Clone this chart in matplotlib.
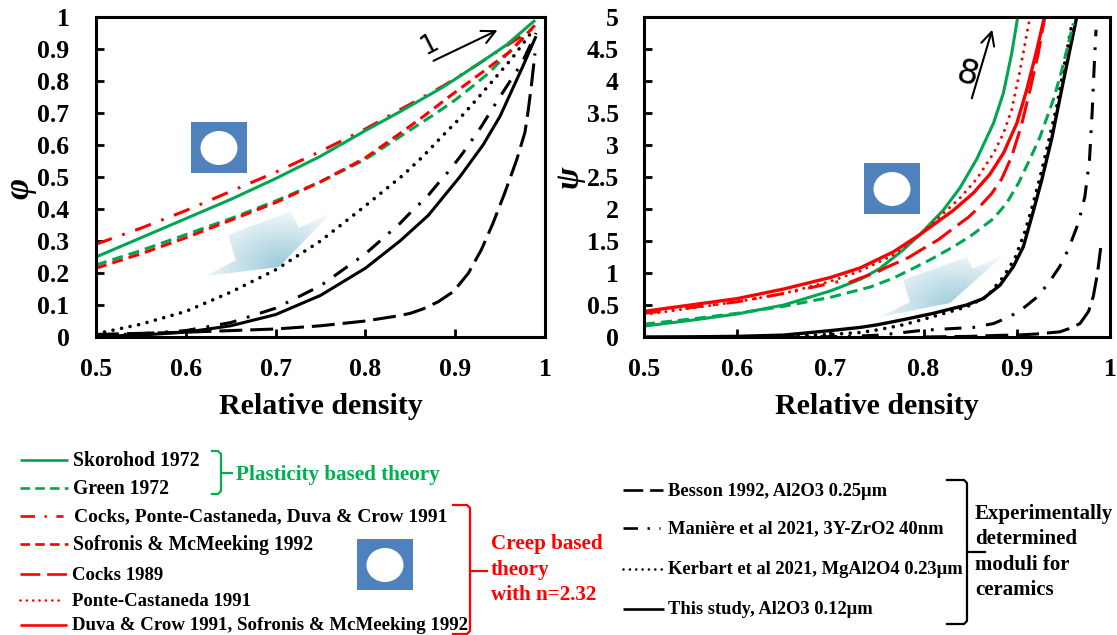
import numpy as np
import matplotlib
matplotlib.use("Agg")
import matplotlib.pyplot as plt
from matplotlib.patches import Ellipse, Polygon, Rectangle

plt.rcParams["font.family"] = ["Liberation Serif", "DejaVu Serif"]
plt.rcParams["font.weight"] = "bold"

W, H = 1117, 635
GREEN = "#00A651"
GREEN_TXT = "#00B050"
RED = "#FF0000"
BLUE = "#4F81BD"

# sol panel: phi
x_sko_l = [0.5, 0.55, 0.6, 0.65, 0.7, 0.75, 0.8, 0.8385, 0.887, 0.924, 0.957, 0.989]
y_sko_l = [0.25, 0.31, 0.37, 0.43, 0.495, 0.565, 0.645, 0.704, 0.782, 0.85, 0.9125, 0.99]
x_gre_l = [0.5, 0.55, 0.6, 0.65, 0.7, 0.75, 0.8, 0.8385, 0.857, 0.8775, 0.8997, 0.9165, 0.937, 0.957, 0.983]
y_gre_l = [0.225, 0.27, 0.32, 0.37, 0.425, 0.485, 0.555, 0.626, 0.66, 0.697, 0.74, 0.777, 0.824, 0.881, 0.954]
x_coc_l = [0.5, 0.55, 0.6, 0.65, 0.7, 0.75, 0.8, 0.8385, 0.887, 0.924, 0.957, 0.99]
y_coc_l = [0.29, 0.34, 0.395, 0.455, 0.515, 0.58, 0.65, 0.71, 0.785, 0.85, 0.91, 0.97]
x_sof_l = [0.5, 0.55, 0.6, 0.65, 0.7, 0.75, 0.8, 0.8385, 0.8645, 0.898, 0.931, 0.961, 0.989]
y_sof_l = [0.215, 0.26, 0.31, 0.365, 0.42, 0.485, 0.56, 0.636, 0.689, 0.761, 0.829, 0.892, 0.975]
x_ker_l = [0.5, 0.55, 0.6, 0.65, 0.7, 0.75, 0.8, 0.842, 0.864, 0.885, 0.905, 0.925, 0.944, 0.963, 0.987]
y_ker_l = [0.01, 0.04, 0.08, 0.14, 0.21, 0.3, 0.41, 0.506, 0.564, 0.626, 0.683, 0.746, 0.808, 0.87, 0.96]
x_man_l = [0.5, 0.55, 0.6, 0.65, 0.7, 0.75, 0.8, 0.8385, 0.853, 0.868, 0.881, 0.894, 0.907, 0.918, 0.929, 0.9406, 0.952, 0.974, 0.99]
y_man_l = [0.005, 0.01, 0.02, 0.045, 0.09, 0.16, 0.26, 0.355, 0.397, 0.436, 0.48, 0.522, 0.569, 0.613, 0.657, 0.71, 0.76, 0.855, 0.95]
x_thi_l = [0.5, 0.55, 0.6, 0.65, 0.7, 0.75, 0.8, 0.8385, 0.87, 0.905, 0.931, 0.95, 0.976, 0.99]
y_thi_l = [0.002, 0.006, 0.015, 0.035, 0.07, 0.13, 0.215, 0.3, 0.38, 0.5, 0.6, 0.69, 0.85, 0.94]
x_bes_l = [0.5, 0.6, 0.7, 0.75, 0.8, 0.8385, 0.85, 0.864, 0.881, 0.898, 0.9146, 0.929, 0.942, 0.955, 0.9684, 0.9777, 0.9814, 0.985, 0.9888]
y_bes_l = [0.008, 0.015, 0.025, 0.035, 0.05, 0.067, 0.074, 0.0875, 0.11, 0.142, 0.199, 0.272, 0.355, 0.449, 0.553, 0.64, 0.71, 0.79, 0.886]

# sag panel: psi
x_sko_r = [0.5, 0.55, 0.6, 0.65, 0.7, 0.732, 0.753, 0.778, 0.796, 0.821, 0.839, 0.857, 0.875, 0.8856, 0.8945, 0.901]
y_sko_r = [0.17, 0.26, 0.36, 0.5, 0.72, 0.9, 1.07, 1.36, 1.6, 1.98, 2.33, 2.78, 3.34, 3.81, 4.43, 5.0]
x_gre_r = [0.5, 0.55, 0.6, 0.65, 0.7, 0.7425, 0.7676, 0.7926, 0.8087, 0.832, 0.8516, 0.875, 0.889, 0.9017, 0.916, 0.925, 0.939, 0.948, 0.9607]
y_gre_r = [0.2, 0.28, 0.37, 0.48, 0.62, 0.78, 0.92, 1.1, 1.22, 1.41, 1.59, 1.85, 2.09, 2.4, 2.84, 3.13, 3.7, 4.15, 4.9]
x_coc_r = [0.5, 0.55, 0.6, 0.65, 0.71]
y_coc_r = [0.37, 0.46, 0.55, 0.68, 0.87]
x_c89_r = [0.72, 0.732, 0.748, 0.7604, 0.7837, 0.796, 0.8158, 0.8284, 0.848, 0.859, 0.873, 0.8838, 0.8945, 0.905, 0.9142, 0.923, 0.93]
y_c89_r = [0.85, 0.92, 1.0, 1.09, 1.24, 1.35, 1.52, 1.66, 1.87, 2.02, 2.24, 2.47, 2.82, 3.31, 3.86, 4.43, 5.0]
x_pon_r = [0.5, 0.55, 0.6, 0.65, 0.7, 0.732, 0.7676, 0.796, 0.821, 0.839, 0.857, 0.875, 0.8856, 0.8945, 0.9035, 0.9135]
y_pon_r = [0.35, 0.45, 0.55, 0.68, 0.87, 1.03, 1.28, 1.6, 1.93, 2.17, 2.47, 2.87, 3.18, 3.55, 4.17, 4.95]
x_duv_r = [0.5, 0.55, 0.6, 0.65, 0.7, 0.732, 0.7676, 0.796, 0.832, 0.8534, 0.871, 0.8856, 0.9, 0.9106, 0.9214, 0.9296]
y_duv_r = [0.4, 0.5, 0.6, 0.75, 0.93, 1.08, 1.33, 1.6, 1.98, 2.25, 2.54, 2.87, 3.34, 3.86, 4.48, 5.0]
x_thi_r = [0.5, 0.55, 0.6, 0.65, 0.7, 0.732, 0.75, 0.778, 0.8105, 0.846, 0.864, 0.882, 0.8963, 0.907, 0.918, 0.9267, 0.9375, 0.9493, 0.9643]
y_thi_r = [0.0, 0.003, 0.01, 0.03, 0.1, 0.15, 0.19, 0.27, 0.37, 0.5, 0.6, 0.81, 1.1, 1.41, 1.98, 2.45, 3.1, 3.95, 5.0]
x_ker_r = [0.6, 0.65, 0.7, 0.732, 0.75, 0.778, 0.8105, 0.846, 0.8677, 0.8856, 0.898, 0.9088, 0.9178, 0.9267, 0.934, 0.9428, 0.95, 0.9589]
y_ker_r = [0.0, 0.01, 0.04, 0.07, 0.11, 0.19, 0.32, 0.47, 0.63, 0.94, 1.23, 1.65, 2.1, 2.6, 3.05, 3.6, 4.17, 4.875]
x_man_r = [0.6, 0.7, 0.732, 0.753, 0.778, 0.796, 0.816, 0.8534, 0.875, 0.8927, 0.907, 0.9214, 0.934, 0.946, 0.9553, 0.966, 0.973, 0.978, 0.981, 0.983, 0.985]
y_man_r = [0.0, 0.005, 0.015, 0.03, 0.07, 0.1, 0.12, 0.15, 0.21, 0.32, 0.45, 0.62, 0.84, 1.1, 1.37, 1.78, 2.19, 2.77, 3.55, 4.22, 4.8]
x_bes_r = [0.8, 0.85, 0.882, 0.9, 0.921, 0.946, 0.957, 0.9678, 0.977, 0.982, 0.9865, 0.99]
y_bes_r = [0.0, 0.01, 0.026, 0.03, 0.047, 0.08, 0.135, 0.21, 0.4, 0.63, 0.99, 1.39]

x_ticks = [0.5, 0.6, 0.7, 0.8, 0.9, 1.0]
x_labels = ["0.5", "0.6", "0.7", "0.8", "0.9", "1"]
phi_ticks = [0, 0.1, 0.2, 0.3, 0.4, 0.5, 0.6, 0.7, 0.8, 0.9, 1]
phi_labels = ["0", "0.1", "0.2", "0.3", "0.4", "0.5", "0.6", "0.7", "0.8", "0.9", "1"]
psi_ticks = [0, 0.5, 1, 1.5, 2, 2.5, 3, 3.5, 4, 4.5, 5]
psi_labels = ["0", "0.5", "1", "1.5", "2", "2.5", "3", "3.5", "4", "4.5", "5"]

# cizgi stilleri (lw birimiyle)
ST = {
    "solid": dict(ls="-"),
    "dash": dict(ls=(0, (3.6, 2.0))),
    "long": dict(ls=(0, (7.5, 2.6))),
    "dashdot": dict(ls=(0, (5.5, 3.6, 0.9, 3.6))),
    "dot": dict(ls=(0, (0.01, 2.4)), dash_capstyle="round"),
}


def eksen(px0, px1, py0, py1, ypad):
    ax = fig.add_axes([px0 / W, 1 - py1 / H, (px1 - px0) / W, (py1 - py0) / H])
    ax.set_xlim(0.5, 1)
    for s in ax.spines.values():
        s.set_linewidth(2.2)
    ax.set_xticks(x_ticks, x_labels)
    ax.tick_params(direction="in", length=6, width=2, labelsize=18.5, pad=15, axis="x")
    ax.tick_params(direction="in", length=6, width=2, labelsize=18.5, pad=ypad, axis="y")
    ax.set_xlabel("Relative density", fontsize=21.5, fontweight="bold", labelpad=9)
    return ax


def ciz(ax, x, y, renk, stil, lw=2.2):
    st = dict(ST[stil])
    st.setdefault("dash_capstyle", "butt")
    ax.plot(x, y, color=renk, lw=lw, solid_capstyle="butt", **st)


def gradyan_ok(pts):
    # acik mavi gradyanli blok ok
    pts = np.array(pts, dtype=float)
    x0, x1, y0, y1 = pts[:, 0].min(), pts[:, 0].max(), pts[:, 1].min(), pts[:, 1].max()
    xx, yy = np.meshgrid(np.linspace(0, 1, 100), np.linspace(0, 1, 100))
    t = np.clip(1.05 - np.hypot((xx - 0.62) / 0.75, (yy - 0.85) / 0.95), 0, 1)
    c0, c1 = np.array([1, 1, 1.0]), np.array([0.62, 0.80, 0.86])
    img = c0 + (c1 - c0) * t[..., None]
    im = ov.imshow(img, extent=[x0, x1, y1, y0], zorder=2, aspect="auto")
    poly = Polygon(pts, closed=True, transform=ov.transData, fc="none", ec="none")
    ov.add_patch(poly)
    im.set_clip_path(poly)


def poroz(x0, y0):
    ov.add_patch(Rectangle((x0, y0), 56, 51, fc=BLUE, ec="none", zorder=3))
    ov.add_patch(Ellipse((x0 + 28, y0 + 26), 37, 34, fc="white", ec="none", zorder=4))


def parantez(x0, x1, y0, y1, ym, xt, renk, lw=1.6):
    ov.plot([x0, x1 - 3, x1, x1, xt], [y0, y0, y0 + 3, ym, ym], color=renk, lw=lw, zorder=5)
    ov.plot([x0, x1 - 3, x1, x1], [y1, y1, y1 - 3, ym], color=renk, lw=lw, zorder=5)


fig = plt.figure(figsize=(W / 100, H / 100), dpi=100)

ax1 = eksen(96, 545, 17, 337, 19)
ax1.set_ylim(0, 1)
ax1.set_yticks(phi_ticks, phi_labels)
ciz(ax1, x_bes_l, y_bes_l, "black", "long")
ciz(ax1, x_thi_l, y_thi_l, "black", "solid")
ciz(ax1, x_man_l, y_man_l, "black", "dashdot")
ciz(ax1, x_ker_l, y_ker_l, "black", "dot", lw=2.6)
ciz(ax1, x_gre_l, y_gre_l, GREEN, "dash")
ciz(ax1, x_sof_l, y_sof_l, RED, "dash")
ciz(ax1, x_coc_l, y_coc_l, RED, "dashdot")
ciz(ax1, x_sko_l, y_sko_l, GREEN, "solid")

ax2 = eksen(644, 1110, 17, 337, 18)
ax2.set_ylim(0, 5)
ax2.set_yticks(psi_ticks, psi_labels)
ciz(ax2, x_bes_r, y_bes_r, "black", "long")
ciz(ax2, x_man_r, y_man_r, "black", "dashdot")
ciz(ax2, x_ker_r, y_ker_r, "black", "dot", lw=2.6)
ciz(ax2, x_thi_r, y_thi_r, "black", "solid", lw=2.4)
ciz(ax2, x_gre_r, y_gre_r, GREEN, "dash")
ciz(ax2, x_sko_r, y_sko_r, GREEN, "solid")
ciz(ax2, x_c89_r, y_c89_r, RED, "long")
ciz(ax2, x_coc_r, y_coc_r, RED, "dashdot")
ciz(ax2, x_pon_r, y_pon_r, RED, "dot")
ciz(ax2, x_duv_r, y_duv_r, RED, "solid", lw=2.4)

# piksel koordinatli ust katman: semalar, oklar, lejant
ov = fig.add_axes([0, 0, 1, 1], zorder=10)
ov.set_xlim(0, W)
ov.set_ylim(H, 0)
ov.axis("off")
ov.patch.set_alpha(0)

gradyan_ok([(332, 212), (279, 267), (206, 276), (236, 260), (228, 235), (291, 211), (299, 228)])
gradyan_ok([(1005, 254), (950, 303), (880, 317), (910, 302), (903, 280), (967, 257), (973, 269)])
ov.set_xlim(0, W)
ov.set_ylim(H, 0)
poroz(191, 122)
poroz(864, 163)
poroz(357, 539)

ov.text(20, 188, "φ", fontsize=26, style="italic", rotation=90, ha="center", va="center")
ov.text(569, 177, "ψ", fontsize=24, style="italic", rotation=90, ha="center", va="center")

ov.annotate("", xy=(500, 29), xytext=(431, 62), arrowprops=dict(arrowstyle="->", lw=1.5, color="black", mutation_scale=24))
ov.annotate("", xy=(993, 27), xytext=(971, 101), arrowprops=dict(arrowstyle="->", lw=1.5, color="black", mutation_scale=24))
ov.text(429, 45, "1", fontsize=19, fontweight="normal", family="DejaVu Sans", rotation=27, ha="center", va="center")
ov.text(967, 75, "8", fontsize=24, fontweight="normal", family="DejaVu Sans", rotation=-15, ha="center", va="center")

lejant = [
    (460, 20, 68, 73, 14.2, "Skorohod 1972", GREEN, "solid"),
    (488, 20, 68, 73, 14.1, "Green 1972", GREEN, "dash"),
    (516, 20, 63, 74, 14.0, "Cocks, Ponte-Castaneda, Duva & Crow 1991", RED, "dashdot"),
    (544, 20, 68, 73, 14.1, "Sofronis & McMeeking 1992", RED, "dash"),
    (574, 20, 67, 72, 13.5, "Cocks 1989", RED, "long"),
    (600, 20, 62, 72, 13.5, "Ponte-Castaneda 1991", RED, "dot"),
    (625, 20, 67, 72, 13.6, "Duva & Crow 1991, Sofronis & McMeeking 1992", RED, "solid"),
    (490, 623, 663, 668, 13.3, "Besson 1992, Al2O3 0.25µm", "black", "long"),
    (528, 623, 660, 668, 13.3, "Manière et al 2021, 3Y-ZrO2 40nm", "black", "dashdot"),
    (569, 623, 664, 668, 13.3, "Kerbart et al 2021, MgAl2O4 0.23µm", "black", "dot"),
    (609, 623, 664, 668, 13.3, "This study, Al2O3 0.12µm", "black", "solid"),
]
for y, k0, k1, xt, fs, metin, renk, stil in lejant:
    st = dict(ST[stil])
    st.setdefault("dash_capstyle", "butt")
    ov.plot([k0, k1], [y, y], color=renk, lw=1.9, solid_capstyle="butt", **st)
    ov.text(xt, y + 1, metin, fontsize=fs, ha="left", va="center")

parantez(212, 221, 451, 494, 473, 232, GREEN_TXT)
ov.text(236, 475, "Plasticity based theory", fontsize=15.2, color=GREEN_TXT, ha="left", va="center")

parantez(453, 470, 505, 634, 571, 487, RED)
for y, metin in zip([544, 570, 595], ["Creep based", "theory", "with n=2.32"]):
    ov.text(491, y, metin, fontsize=15.2, color=RED, ha="left", va="center")

parantez(947, 967, 480, 624, 552, 985, "black")
for y, metin in zip([514, 539, 565, 590], ["Experimentally", "determined", "moduli for", "ceramics"]):
    ov.text(975, y, metin, fontsize=15, ha="left", va="center")

fig.savefig("out.png", dpi=100)
